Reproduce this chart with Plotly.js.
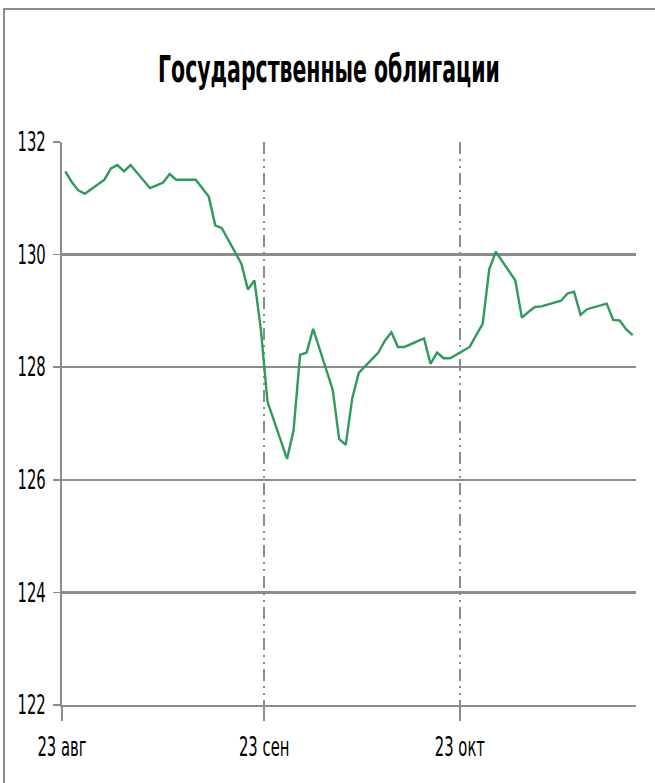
<!DOCTYPE html>
<html>
<head>
<meta charset="utf-8">
<script src="https://cdn.plot.ly/plotly-3.0.1.min.js"></script>
<style>
  html, body { margin: 0; padding: 0; background: #fff; }
  #frame { position: absolute; left: 3px; top: 8px; width: 660px; height: 790px;
           border-left: 2px solid #8c8c8c; border-top: 2px solid #8c8c8c; box-sizing: border-box; }
  #chart { position: absolute; left: 0; top: 0; width: 655px; height: 783px; }
</style>
</head>
<body>
<div id="frame"></div>
<div id="chart"></div>
<script>
const dates = ['2011-08-23','2011-08-24','2011-08-25','2011-08-26','2011-08-29','2011-08-30','2011-08-31','2011-09-01','2011-09-02',
  '2011-09-05','2011-09-06','2011-09-07','2011-09-08','2011-09-09','2011-09-12','2011-09-13','2011-09-14','2011-09-15','2011-09-16',
  '2011-09-19','2011-09-20','2011-09-21','2011-09-22','2011-09-23','2011-09-26','2011-09-27','2011-09-28','2011-09-29','2011-09-30',
  '2011-10-03','2011-10-04','2011-10-05','2011-10-06','2011-10-07','2011-10-10','2011-10-11','2011-10-12','2011-10-13','2011-10-14',
  '2011-10-17','2011-10-18','2011-10-19','2011-10-20','2011-10-21','2011-10-24','2011-10-25','2011-10-26','2011-10-27','2011-10-28',
  '2011-10-31','2011-11-01','2011-11-02','2011-11-03','2011-11-04','2011-11-07','2011-11-08','2011-11-09','2011-11-10','2011-11-11',
  '2011-11-14','2011-11-15','2011-11-16','2011-11-17','2011-11-18'];
const values = [131.48,131.29,131.14,131.08,131.33,131.53,131.59,131.48,131.59,
  131.18,131.23,131.28,131.43,131.33,131.33,131.17,131.03,130.52,130.47,
  129.84,129.38,129.54,128.66,127.39,126.37,126.88,128.22,128.26,128.68,
  127.60,126.72,126.62,127.45,127.90,128.26,128.47,128.62,128.36,128.36,
  128.51,128.06,128.26,128.16,128.16,128.36,128.57,128.77,129.74,130.05,
  129.54,128.88,128.98,129.07,129.08,129.18,129.31,129.34,128.93,129.03,
  129.13,128.84,128.83,128.67,128.57];
const tickDates = ['2011-08-22 12:00','2011-09-22 12:00','2011-10-22 12:00'];
const tickLabels = ['23 авг','23 сен','23 окт'];
const yTicks = [122,124,126,128,130,132];

const FONT = '"DejaVu Sans", sans-serif';
const GRID = '#8c8c8c';
const SQUEEZE = 0.57;
const TITLE_WIDTH = 342;
const TITLE_CX = 329;

const data = [{
  x: dates, y: values, type: 'scatter', mode: 'lines',
  line: {color: '#2e9a5c', width: 2.4}, hoverinfo: 'skip', showlegend: false
}];

const layout = {
  width: 655, height: 783,
  paper_bgcolor: 'rgba(0,0,0,0)', plot_bgcolor: 'rgba(0,0,0,0)',
  margin: {l: 62, r: 19, t: 142, b: 78},
  font: {family: FONT, color: '#000'},
  title: {text: '<b>Государственные облигации</b>', font: {family: FONT, size: 37, color: '#000'},
          x: TITLE_CX/655, xanchor: 'center', xref: 'container', y: 1 - 69/783, yanchor: 'middle', yref: 'container'},
  xaxis: {
    type: 'date', range: ['2011-08-22 12:00', '2011-11-18 12:00'],
    tickmode: 'array', tickvals: tickDates, ticktext: tickLabels,
    ticks: 'outside', ticklen: 14, tickwidth: 1.5, tickcolor: GRID,
    showline: true, linecolor: GRID, linewidth: 2,
    showgrid: true, gridcolor: GRID, gridwidth: 1.5, griddash: '12px,5px,2px,5px,2px,5px',
    tickfont: {family: FONT, size: 26, color: '#000'}, ticklabelstandoff: 4,
    fixedrange: true
  },
  xaxis2: {
    type: 'date', overlaying: 'x', matches: 'x', anchor: 'y', side: 'bottom',
    tickmode: 'array', tickvals: tickDates, ticktext: tickLabels,
    ticks: 'inside', ticklen: 13, tickwidth: 1.5, tickcolor: GRID,
    showticklabels: false, showgrid: false, showline: false
  },
  yaxis: {
    range: [122, 132], tickmode: 'array', tickvals: yTicks,
    ticks: 'outside', ticklen: 7, tickwidth: 1.5, tickcolor: GRID,
    showline: true, linecolor: GRID, linewidth: 2,
    showgrid: true, gridcolor: GRID, gridwidth: 2.5,
    zeroline: false,
    tickfont: {family: FONT, size: 26, color: '#000'}, ticklabelstandoff: 2,
    fixedrange: true
  }
};

Plotly.newPlot('chart', data, layout, {staticPlot: true, displayModeBar: false}).then(function (gd) {
  // Narrow the glyphs horizontally (the reference uses a condensed face).
  gd.querySelectorAll('.xtick text, .ytick text').forEach(function (t) {
    const w = t.getComputedTextLength();
    if (w > 0) {
      t.setAttribute('textLength', (w * SQUEEZE).toFixed(1));
      t.setAttribute('lengthAdjust', 'spacingAndGlyphs');
    }
  });
  gd.querySelectorAll('.gtitle').forEach(function (t) {
    const w = t.getBBox().width;
    if (w > 0) {
      const s = TITLE_WIDTH / w;
      const cx = parseFloat(t.getAttribute('x')) || TITLE_CX;
      t.setAttribute('transform', 'translate(' + (cx * (1 - s)).toFixed(2) + ',0) scale(' + s.toFixed(4) + ',1)');
    }
  });
});
</script>
</body>
</html>
